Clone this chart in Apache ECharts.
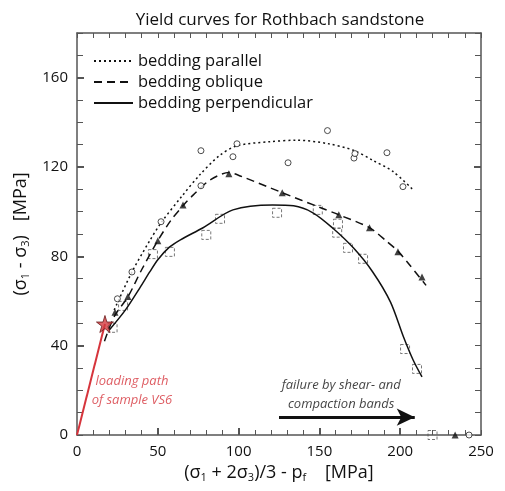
<!DOCTYPE html>
<html>
<head>
<meta charset="utf-8">
<script src="https://cdn.jsdelivr.net/npm/echarts@6/dist/echarts.min.js"></script>
<style>html,body{margin:0;padding:0;background:#fff}#c{width:505px;height:491px}</style>
</head>
<body>
<div id="c"></div>
<script>
// ---- data ----
var seriesNames = ['bedding parallel', 'bedding oblique', 'bedding perpendicular'];
var parallelCurve = [[23,56],[34,73],[45,87],[52,95],[65,107],[76,116.5],[88,125],[99,129.5],[119,131.3],[136,132],[155,130.5],[171,127.5],[183,123],[195.5,118],[208.5,109.4]];
var obliqueCurve = [[17,42],[23,53],[31.6,62],[40,74],[50,87],[58,96],[66,103],[72,107.5],[82,114],[94,117.5],[101,116],[127,108.5],[150,102],[162,98.6],[181,92.8],[192,86.5],[199,82],[206,76],[216,67]];
var perpendicularCurve = [[20,47],[30,56],[39,66],[45,73],[50,78.5],[57,84],[64,87.4],[78,92.8],[96.5,100.8],[121,103],[134,102.6],[146,99.5],[158,92.8],[171,83.8],[183,73],[194,59.5],[202,44],[208,33.6],[213.5,26]];
var parallelPts = [[25,61],[34,73],[52,95.5],[76.7,127.3],[76.7,111.6],[96.5,124.6],[99,130.4],[130.6,121.9],[155,136.3],[171.4,124],[172,126],[191.8,126.4],[201.7,111.2],[242.6,0]];
var obliquePts = [[23.5,55],[31.5,62],[50,87],[65.6,103],[94,117],[127,108.5],[162,98.6],[181,92.8],[198.6,82],[213.5,70.8],[234,0]];
var perpendicularPts = [[22,48],[28.5,57.8],[47,81],[57.5,82],[80,89.6],[88.5,96.8],[123.8,99.5],[149,100.8],[161.5,94.6],[161,90.6],[167.7,83.8],[177,78.9],[203,38.5],[210.4,29.6],[220,0]];
var loadingPath = [[0,0],[17.3,49.7]];
var samplePoint = [[17.3,49.7]];
var failureArrow = [[125,8],[209,8]];
var loadingText = [[34,19.7]];
var failureText = [[163.5,18]];
var xTickLabels = [0,50,100,150,200,250];
var yTickLabels = [0,40,80,120,160];
var xMinorTicks = [], yMinorTicks = [];
for (var i = 0; i <= 250; i += 10) xMinorTicks.push(i);
for (var j = 0; j <= 180; j += 10) yMinorTicks.push(j);
var xMajorTicks = [50,100,150,200];
var yMajorTicks = [40,80,120,160];

// ---- chart ----
var FONT = 'Open Sans';
var axisColor = '#555';
function xAx(pos, ticks, tlen, twidth, labels, showLine) {
  return {
    type:'value', position: pos, min:0, max:250,
    axisLine:{show:showLine, onZero:false, lineStyle:{color:axisColor, width:1.5}},
    axisTick:{show:true, inside:true, length:tlen, customValues:ticks, lineStyle:{color:axisColor, width:twidth}},
    axisLabel: labels ? {show:true, customValues:labels, fontFamily:FONT, fontSize:15, color:'#111', margin:9} : {show:false},
    splitLine:{show:false}
  };
}
function yAx(pos, ticks, tlen, twidth, labels, showLine) {
  return {
    type:'value', position: pos, min:0, max:180,
    axisLine:{show:showLine, onZero:false, lineStyle:{color:axisColor, width:1.5}},
    axisTick:{show:true, inside:true, length:tlen, customValues:ticks, lineStyle:{color:axisColor, width:twidth}},
    axisLabel: labels ? {show:true, customValues:labels, fontFamily:FONT, fontSize:15, color:'#111', margin:9} : {show:false},
    splitLine:{show:false}
  };
}
var nameStyle = {fontFamily:FONT, fontSize:18, color:'#111', rich:{s:{fontFamily:FONT, fontSize:11, color:'#111', padding:[10,0,0,0]}}};
var xa0 = xAx('bottom', xMinorTicks, 5, 1, xTickLabels, true);
xa0.name = '(σ{s|1} + 2σ{s|3})/3 - p{s|f}    [MPa]';
xa0.nameLocation = 'middle';
xa0.nameGap = 26;
xa0.nameTextStyle = nameStyle;
var ya0 = yAx('left', yMinorTicks, 6, 1, yTickLabels, true);
ya0.name = '(σ{s|1} - σ{s|3})   [MPa]';
ya0.nameLocation = 'middle';
ya0.nameGap = 40;
ya0.nameRotate = 90;
ya0.nameTextStyle = nameStyle;

var starPath = 'path://M50,0 L61,35 L98,35 L68,57 L79,91 L50,70 L21,91 L32,57 L2,35 L39,35 Z';

var option = {
  animation:false,
  backgroundColor:'#fff',
  title:{text:'Yield curves for Rothbach sandstone', left:275, textAlign:'center', top:7,
    textStyle:{fontFamily:FONT, fontSize:17, fontWeight:'normal', color:'#111'}},
  grid:{left:77, right:24, top:33, bottom:56},
  legend:{show:true, orient:'vertical', left:93, top:52, padding:0, itemWidth:39, itemHeight:14, itemGap:3,
    data:seriesNames, itemStyle:{opacity:0},
    textStyle:{fontFamily:FONT, fontSize:16.5, lineHeight:18, color:'#111'}},
  xAxis:[xa0, xAx('bottom', xMajorTicks, 7, 2, null, false), xAx('top', xMinorTicks, 5, 1, null, true)],
  yAxis:[ya0, yAx('left', yMajorTicks, 7, 2, null, false), yAx('right', yMinorTicks, 6, 1, null, true), yAx('right', [120], 7, 2, null, false)],
  series:[
    {name:seriesNames[0], type:'line', data:parallelCurve, smooth:0.3, symbol:'none', z:3,
      lineStyle:{color:'#111', width:1.5, type:[2,3]}, itemStyle:{color:'#111'}},
    {name:seriesNames[1], type:'line', data:obliqueCurve, smooth:0.3, symbol:'none', z:3,
      lineStyle:{color:'#111', width:1.5, type:[8,5]}, itemStyle:{color:'#111'}},
    {name:seriesNames[2], type:'line', data:perpendicularCurve, smooth:0.3, symbol:'none', z:3,
      lineStyle:{color:'#111', width:1.5, type:'solid'}, itemStyle:{color:'#111'}},
    {type:'scatter', data:parallelPts, symbol:'circle', symbolSize:6, z:4,
      itemStyle:{color:'#fff', borderColor:'#222', borderWidth:1}},
    {type:'scatter', data:obliquePts, symbol:'triangle', symbolSize:7, z:4,
      itemStyle:{color:'#111'}},
    {type:'scatter', data:perpendicularPts, symbol:'rect', symbolSize:9, z:2,
      itemStyle:{color:'rgba(255,255,255,0)', borderColor:'#555', borderWidth:1, borderType:[3,2]}},
    {type:'line', data:loadingPath, symbol:'none', z:5,
      lineStyle:{color:'#d6343c', width:2}},
    {type:'scatter', data:samplePoint, symbol:starPath, symbolSize:17, z:6,
      itemStyle:{color:'#d23a3f', borderColor:'#6a1a1a', borderWidth:1}},
    {type:'line', data:failureArrow, symbol:'none', z:5,
      lineStyle:{opacity:0},
      markLine:{silent:true, symbol:['none','arrow'], symbolSize:[13,18],
        lineStyle:{color:'#111', width:3, type:'solid'}, label:{show:false},
        data:[[{coord:failureArrow[0]},{coord:failureArrow[1]}]]}},
    {type:'scatter', data:loadingText, symbolSize:0, z:6,
      label:{show:true, position:'inside', formatter:'loading path\nof sample VS6', fontFamily:FONT, fontStyle:'italic', fontSize:13, lineHeight:19, color:'#d6343c', align:'center'}},
    {type:'scatter', data:failureText, symbolSize:0, z:6,
      label:{show:true, position:'inside', formatter:'failure by shear- and\ncompaction bands', fontFamily:FONT, fontStyle:'italic', fontSize:13, lineHeight:19, color:'#111', align:'center'}}
  ]
};
var chart = echarts.init(document.getElementById('c'), null, {renderer:'canvas'});
chart.setOption(option);
</script>
</body>
</html>
